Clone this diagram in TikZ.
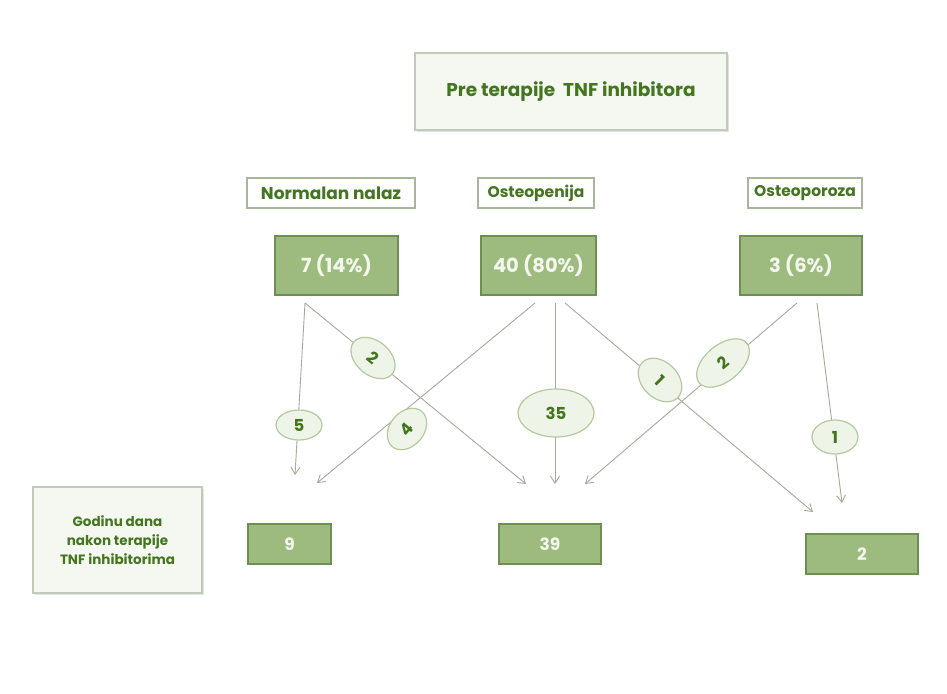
\documentclass[tikz,border=0pt]{standalone}
\usepackage{fontspec}
\setmainfont{Poppins}
\usetikzlibrary{arrows.meta,shapes.geometric,shadows}
\definecolor{dkgreen}{HTML}{44761F}
\definecolor{boxfill}{HTML}{9DBB7F}
\definecolor{boxedge}{HTML}{6E8F52}
\definecolor{lightfill}{HTML}{F5F8F0}
\definecolor{lightedge}{HTML}{C2CBBA}
\definecolor{labedge}{HTML}{A9B69C}
\definecolor{elfill}{HTML}{EEF4E7}
\definecolor{eledge}{HTML}{B3C99E}
\definecolor{arrowcol}{HTML}{A3AC9B}
\definecolor{valtext}{HTML}{F4F7EE}
\begin{document}
\begin{tikzpicture}[x=1pt,y=-1pt,
  panel/.style={draw=lightedge, line width=1.2pt, fill=lightfill, inner sep=0pt,
    drop shadow={opacity=0.22, shadow xshift=1.5pt, shadow yshift=-2pt},
    text=dkgreen, font=\bfseries\fontsize{18.5}{22}\selectfont},
  catbox/.style={draw=labedge, line width=1.1pt, fill=white, inner sep=0pt,
    minimum height=30pt, text=dkgreen, font=\bfseries\fontsize{15.5}{18}\selectfont},
  valbox/.style={draw=boxedge, line width=1.6pt, fill=boxfill, inner sep=0pt,
    text=valtext, font=\bfseries\fontsize{19.5}{22}\selectfont},
  flow/.style={draw=arrowcol, line width=0.9pt, -{Straight Barb[length=7pt,width=9pt]}},
  count/.style={ellipse, draw=eledge, line width=1.2pt, fill=elfill, inner sep=0pt,
    text=dkgreen, font=\bfseries\fontsize{16.5}{18}\selectfont}
]
\useasboundingbox (0,0) rectangle (947,693);
\fill[white] (0,0) rectangle (947,693);

% title and left panel
\node[panel, minimum width=312pt, minimum height=77pt] (title) at (571,91.5) {Pre terapije\ \ TNF inhibitora};
\node[panel, minimum width=169pt, minimum height=106pt, align=center,
  font=\bfseries\fontsize{13.5}{19}\selectfont] (after) at (117.5,540)
  {Godinu dana\\nakon terapije\\TNF inhibitorima};

% category labels
\node[catbox, minimum width=168pt, font=\bfseries\fontsize{17}{18}\selectfont] (normal) at (331,193) {Normalan nalaz};
\node[catbox, minimum width=116pt] (penia) at (536,193) {Osteopenija};
\node[catbox, minimum width=114pt] (poroza) at (805,193) {Osteoporoza};

% value boxes
\node[valbox, minimum width=123pt, minimum height=59pt] (v7) at (336.5,265.5) {7 (14\%)};
\node[valbox, minimum width=115pt, minimum height=59pt] (v40) at (538.5,265.5) {40 (80\%)};
\node[valbox, minimum width=122pt, minimum height=59pt] (v3) at (801,265.5) {3 (6\%)};

% result boxes
\node[valbox, minimum width=83pt, minimum height=40pt, font=\bfseries\fontsize{17}{20}\selectfont] (r9) at (289.5,544) {9};
\node[valbox, minimum width=102pt, minimum height=40pt, font=\bfseries\fontsize{17}{20}\selectfont] (r39) at (550,544) {39};
\node[valbox, minimum width=112pt, minimum height=40pt, font=\bfseries\fontsize{17}{20}\selectfont] (r2) at (862,554) {2};

% connector ends
\coordinate (s7) at (305,303);
\coordinate (s40a) at (535,303);
\coordinate (s40b) at (555,303);
\coordinate (s40c) at (565,303);
\coordinate (s3a) at (797,303);
\coordinate (s3b) at (817,303);
\coordinate (e9a) at (295,475);
\coordinate (e9b) at (317,483);
\coordinate (e39a) at (526,484);
\coordinate (e39b) at (555,484);
\coordinate (e39c) at (585,484);
\coordinate (e2a) at (813,512);
\coordinate (e2b) at (842,503);

\draw[flow] (s7) -- (e9a);
\draw[flow] (s7) -- (e39a);
\draw[flow] (s40a) -- (e9b);
\draw[flow] (s40b) -- (e39b);
\draw[flow] (s40c) -- (e2a);
\draw[flow] (s3a) -- (e39c);
\draw[flow] (s3b) -- (e2b);

% counts
\node[count, minimum width=46pt, minimum height=30pt] (c5) at (299,425) {5};
\node[count, minimum width=50pt, minimum height=34pt, rotate=-40] (c2a) at (373,358) {2};
\node[count, minimum width=46pt, minimum height=34pt, rotate=50] (c4) at (407,429) {4};
\node[count, minimum width=76pt, minimum height=48pt] (c35) at (556,413) {35};
\node[count, minimum width=50pt, minimum height=36pt, rotate=-45] (c1a) at (660,380) {1};
\node[count, minimum width=62pt, minimum height=36pt, rotate=40] (c2b) at (723,363) {2};
\node[count, minimum width=46pt, minimum height=34pt] (c1b) at (835,437) {1};
\end{tikzpicture}
\end{document}
